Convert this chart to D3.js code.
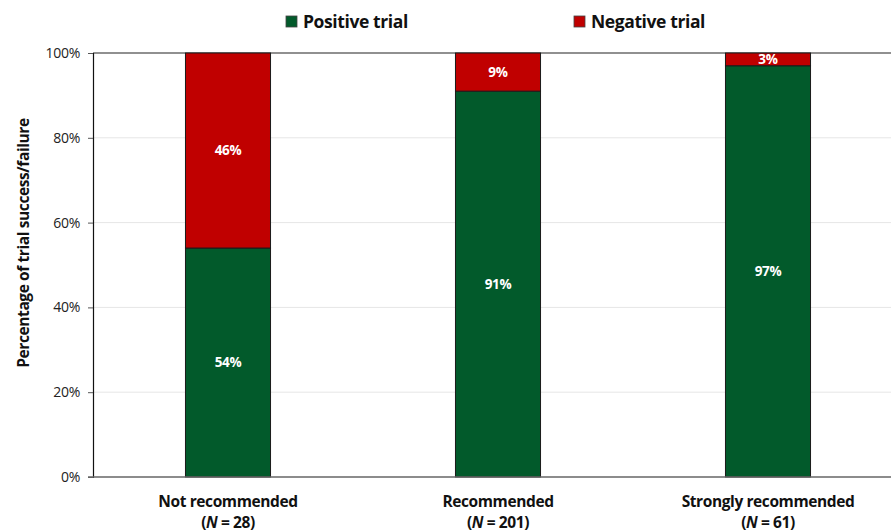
<!DOCTYPE html>
<html>
<head>
<meta charset="utf-8">
<script src="https://cdn.jsdelivr.net/npm/d3@7"></script>
<style>
  html, body { margin: 0; padding: 0; background: #fff; }
  svg { display: block; font-family: "Open Sans", Lato, sans-serif; }
</style>
</head>
<body>
<svg id="chart" width="891" height="532"></svg>
<script>
// Recommendation groups and their trial counts
const categories = ["Not recommended", "Recommended", "Strongly recommended"];
const sampleSizes = [28, 201, 61];
// Share of trials (%) per group
const positive = [54, 91, 97];
const negative = [46, 9, 3];
const seriesNames = ["Positive trial", "Negative trial"];
const yTicks = [0, 20, 40, 60, 80, 100];

const colors = { "Positive trial": "#025A2B", "Negative trial": "#C00000" };

const svg = d3.select("#chart");
const margin = { top: 53, left: 93, bottom: 55 };
const plotW = 810;
const height = 532;
const plotH = height - margin.top - margin.bottom;

const rows = categories.map((c, i) => ({
  category: c, n: sampleSizes[i],
  "Positive trial": positive[i], "Negative trial": negative[i]
}));

const x = d3.scaleBand().domain(categories)
  .range([margin.left, margin.left + plotW])
  .paddingInner(0.685).paddingOuter(0.3425);
const y = d3.scaleLinear().domain([0, 100]).range([margin.top + plotH, margin.top]);

// Gridlines
svg.append("g").selectAll("line")
  .data(yTicks.filter(t => t > 0 && t < 100))
  .join("line")
  .attr("x1", margin.left).attr("x2", 891)
  .attr("y1", d => y(d)).attr("y2", d => y(d))
  .attr("stroke", "#e6e6e6").attr("stroke-width", 1);
svg.append("line")
  .attr("x1", margin.left).attr("x2", 891)
  .attr("y1", y(100)).attr("y2", y(100))
  .attr("stroke", "#222").attr("stroke-width", 1.2);

// Stacked bars
const stack = d3.stack().keys(seriesNames)(rows);
const layer = svg.append("g").selectAll("g").data(stack).join("g")
  .attr("fill", d => colors[d.key]);
layer.selectAll("rect").data(d => d).join("rect")
  .attr("x", d => x(d.data.category))
  .attr("width", x.bandwidth())
  .attr("y", d => y(d[1]))
  .attr("height", d => y(d[0]) - y(d[1]))
  .attr("stroke", "#1a1a1a").attr("stroke-width", 1);

// Value labels
layer.selectAll("text").data(d => d).join("text")
  .attr("x", d => x(d.data.category) + x.bandwidth() / 2)
  .attr("y", d => (y(d[0]) + y(d[1])) / 2)
  .attr("dy", "0.35em")
  .attr("text-anchor", "middle")
  .attr("fill", "#fff")
  .attr("font-weight", 700)
  .attr("font-size", 13.5)
  .attr("letter-spacing", -0.3)
  .text(d => (d[1] - d[0]) + "%");

// Y axis
const yAxis = d3.axisLeft(y).tickValues(yTicks).tickFormat(d => d + "%").tickSize(5).tickPadding(8);
const gy = svg.append("g").attr("transform", `translate(${margin.left},0)`).call(yAxis);
gy.select(".domain").attr("stroke", "#111").attr("stroke-width", 1.2);
gy.selectAll(".tick line").attr("stroke", "#555");
gy.selectAll("text").attr("font-size", 14).attr("fill", "#222")
  .attr("letter-spacing", -0.3)
  .attr("font-family", "'Open Sans', sans-serif");

// X axis baseline
svg.append("line")
  .attr("x1", margin.left - 5).attr("x2", 891)
  .attr("y1", y(0)).attr("y2", y(0))
  .attr("stroke", "#666").attr("stroke-width", 1.5);

// Category labels
const xl = svg.append("g").selectAll("text").data(rows).join("text")
  .attr("x", d => x(d.category) + x.bandwidth() / 2)
  .attr("text-anchor", "middle")
  .attr("font-weight", 700).attr("font-size", 15.5).attr("fill", "#111")
  .attr("letter-spacing", -0.4);
xl.append("tspan").attr("x", d => x(d.category) + x.bandwidth() / 2).attr("y", 507)
  .text(d => d.category);
const second = xl.append("tspan").attr("x", d => x(d.category) + x.bandwidth() / 2).attr("y", 528);
second.append("tspan").text("(");
second.append("tspan").attr("font-style", "italic").text("N");
second.append("tspan").text(d => " = " + d.n + ")");

// Y axis title
svg.append("text")
  .attr("transform", "translate(29,243) rotate(-90)")
  .attr("text-anchor", "middle")
  .attr("font-weight", 700).attr("font-size", 15.5).attr("fill", "#111")
  .attr("letter-spacing", -0.4)
  .text("Percentage of trial success/failure");

// Legend
const legendX = [286, 574];
const lg = svg.append("g").selectAll("g").data(seriesNames).join("g")
  .attr("transform", (d, i) => `translate(${legendX[i]},22)`);
lg.append("rect").attr("x", 0).attr("y", -6).attr("width", 11).attr("height", 11)
  .attr("fill", d => colors[d]).attr("stroke", "#444").attr("stroke-width", 0.8);
lg.append("text").attr("x", 17).attr("dy", "0.35em")
  .attr("font-weight", 700).attr("font-size", 17.5).attr("fill", "#111")
  .attr("letter-spacing", -0.4)
  .text(d => d);
</script>
</body>
</html>
